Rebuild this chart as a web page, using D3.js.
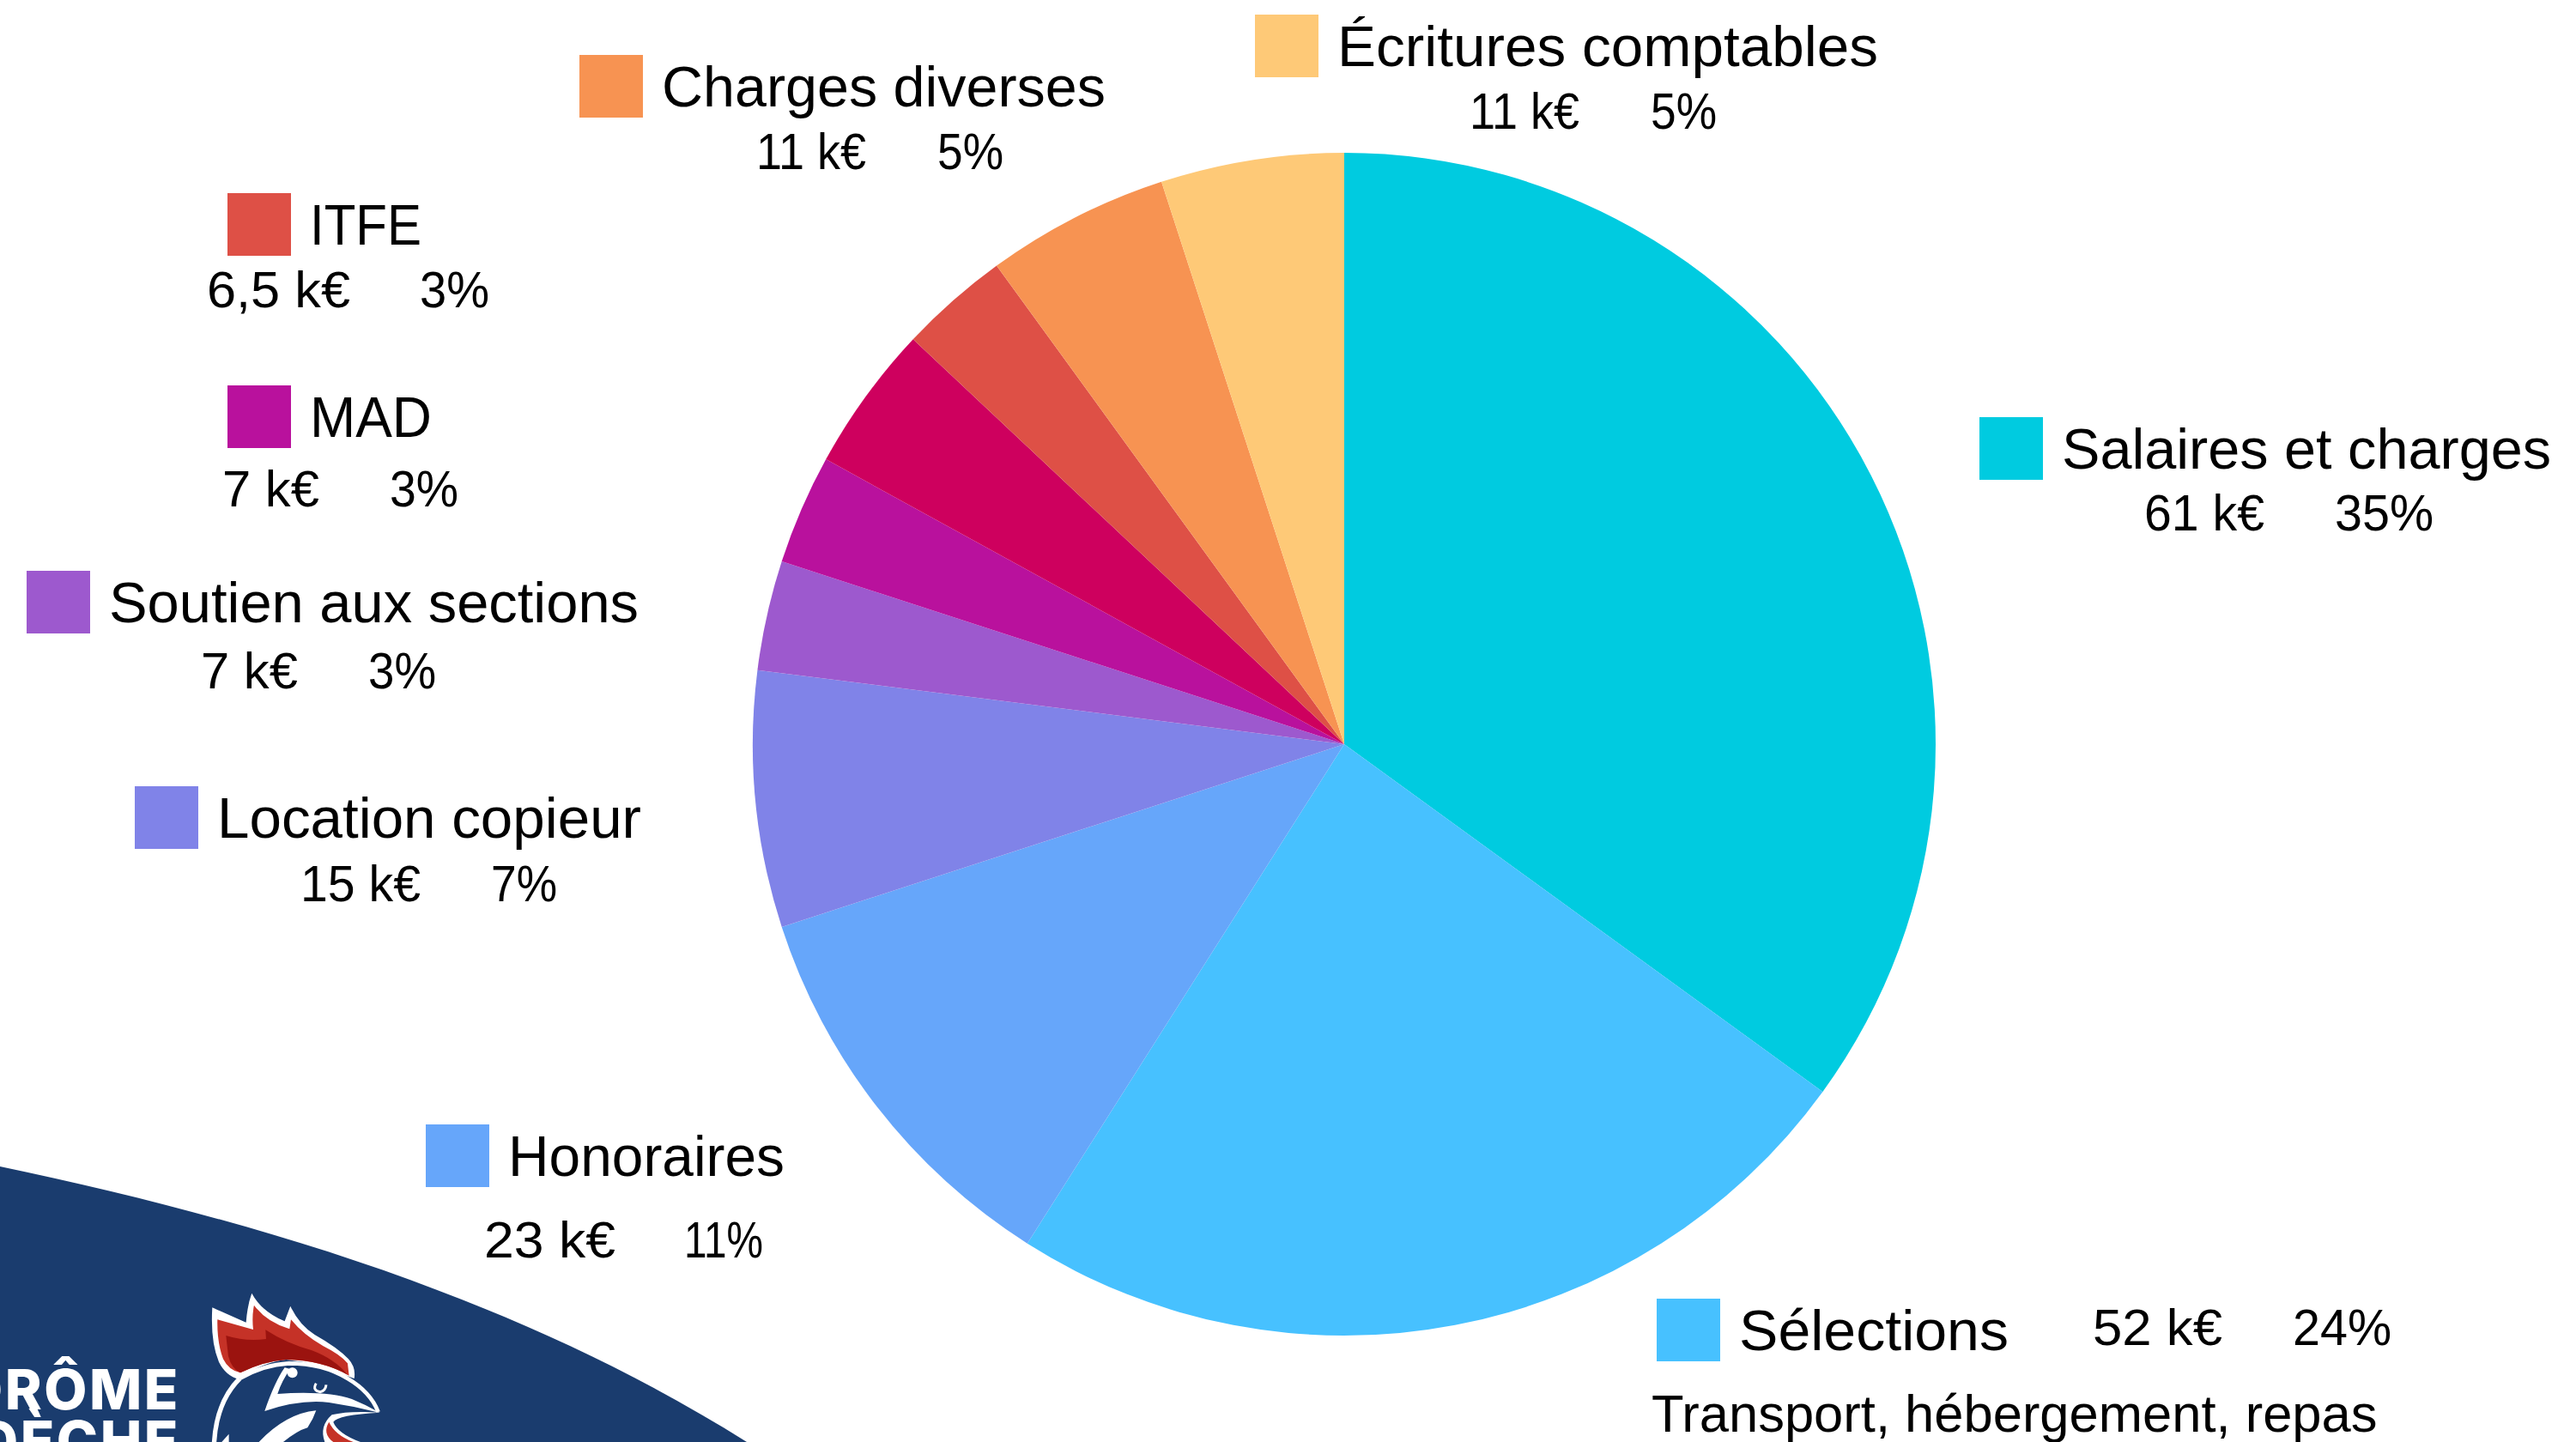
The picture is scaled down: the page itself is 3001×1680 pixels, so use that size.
<!DOCTYPE html>
<html>
<head>
<meta charset="utf-8">
<script src="https://cdn.jsdelivr.net/npm/d3@7"></script>
<style>
  html, body { margin: 0; padding: 0; background: #fff; }
  text { font-family: "Liberation Sans", Arial, sans-serif; fill: #000; }
  .logo-text { font-family: Inter, sans-serif; font-weight: 800; fill: #fff; }
</style>
</head>
<body>
<svg id="chart" width="3001" height="1680"></svg>
<script>
// one entry per slice, clockwise from the top. the crimson slice has no label on the picture
var names = ["Salaires et charges", "Sélections", "Honoraires", "Location copieur", "Soutien aux sections", "MAD", "", "ITFE", "Charges diverses", "Écritures comptables"];
var amounts = ["61 k€", "52 k€", "23 k€", "15 k€", "7 k€", "7 k€", "", "6,5 k€", "11 k€", "11 k€"];
var percents = [35, 24, 11, 7, 3, 3, 4, 3, 5, 5];
var colors = ["#00cbe0", "#47c1ff", "#66a6fa", "#8083e8", "#9d59ce", "#b9119d", "#ce005e", "#de5046", "#f79352", "#fec977"];
var note = "Transport, hébergement, repas";

var svg = d3.select("#chart");
var cx = 1566, cy = 867, r = 689;

// blue corner with the logo
svg.append("path")
  .attr("d", "M0,1359 C290,1420 600,1510 870,1680 L0,1680 Z")
  .attr("fill", "#1a3c6e");

svg.append("text").attr("class", "logo-text")
  .attr("x", 210).attr("y", 1642).attr("font-size", 65).attr("letter-spacing", 2.5).attr("text-anchor", "end").text("DRÔME");
svg.append("text").attr("class", "logo-text")
  .attr("x", 210).attr("y", 1702).attr("font-size", 65).attr("letter-spacing", 2.5).attr("text-anchor", "end").text("ARDÈCHE");

// rooster (3x coordinates)
var logo = svg.append("g").attr("transform", "translate(0,1480) scale(0.3333)");
logo.append("path").attr("fill", "#fff")
  .attr("d", "M742,130 L860,182 Q865,120 880,80 Q915,145 995,178 L1015,125 Q1045,190 1100,225 Q1180,270 1218,310 Q1245,340 1238,378 L1215,370 Q1120,325 1000,312 Q920,320 835,380 Q790,370 765,320 Q735,250 742,130 Z");
logo.append("path").attr("fill", "#c53227")
  .attr("d", "M760,172 L885,207 Q880,160 888,122 Q930,180 1012,205 L1017,172 Q1060,225 1130,265 Q1190,295 1215,325 L1220,368 Q1130,315 1000,312 Q920,318 840,358 Q800,350 780,310 Q758,250 760,172 Z");
logo.append("path").attr("fill", "#9b130f")
  .attr("d", "M790,228 Q860,250 930,240 L928,208 Q1000,255 1090,280 Q1170,310 1215,365 Q1120,312 1000,312 Q920,318 840,358 Q810,345 798,300 Z");
logo.append("path").attr("fill", "none").attr("stroke", "#fff").attr("stroke-width", 14)
  .attr("d", "M838,378 Q920,330 1010,325 Q1130,325 1215,378 Q1295,425 1322,495");
logo.append("path").attr("fill", "none").attr("stroke", "#fff").attr("stroke-width", 16)
  .attr("d", "M838,378 Q755,460 748,610");
logo.append("path").attr("fill", "#fff")
  .attr("d", "M995,340 Q960,390 925,492 Q1050,450 1150,462 Q1240,475 1328,498 Q1280,470 1230,450 Q1140,420 970,432 Q985,385 1015,345 Z");
logo.append("circle").attr("fill", "#fff").attr("cx", 1022).attr("cy", 358).attr("r", 18);
logo.append("path").attr("fill", "none").attr("stroke", "#fff").attr("stroke-width", 9)
  .attr("d", "M1105,395 Q1090,420 1120,425 Q1138,420 1140,400");
logo.append("path").attr("fill", "#fff")
  .attr("d", "M1105,490 Q1000,500 905,600 L990,600 Q1040,560 1075,550 Q1095,520 1105,490 Z");
logo.append("path").attr("fill", "#fff")
  .attr("d", "M1328,497 Q1220,490 1160,505 Q1115,545 1135,600 L1260,600 Q1180,570 1165,530 Q1180,505 1328,497 Z");
logo.append("path").attr("fill", "#c53227")
  .attr("d", "M1150,530 Q1125,570 1165,600 L1235,600 Q1170,575 1150,530 Z");
logo.append("path").attr("fill", "#fff")
  .attr("d", "M800,572 L775,600 L800,600 Z");

var pie = d3.pie().sort(null).value(function(d) { return d; });
var arc = d3.arc().innerRadius(0).outerRadius(r);

svg.append("g")
  .attr("transform", "translate(" + cx + "," + cy + ")")
  .selectAll("path")
  .data(pie(percents))
  .enter().append("path")
  .attr("d", arc)
  .attr("fill", function(d, i) { return colors[i]; });

// legend layout, the widths are forced since the original font runs narrower
// [swatch x, swatch y, amount x, percent x, values baseline, name width, amount width, percent width]
var legendPos = [
  [2306, 486, 2498, 2720, 618, 570, 140, 115],
  [1930, 1513, 2438, 2671, 1567, 314, 151, 115],
  [496, 1310, 564, 797, 1465, 322, 153, 92],
  [157, 916, 350, 572, 1050, 494, 140, 77],
  [31, 665, 234, 429, 802, 617, 113, 79],
  [265, 449, 259, 454, 590, 142, 113, 80],
  null,
  [265, 225, 241, 489, 358, 130, 167, 81],
  [675, 64, 881, 1092, 197, 517, 128, 77],
  [1462, 17, 1712, 1923, 150, 630, 128, 77]
];

var legend = svg.append("g").selectAll("g")
  .data(names.map(function(n, i) { return { name: n, i: i }; }).filter(function(d) { return d.name; }))
  .enter().append("g");

legend.append("rect")
  .attr("x", function(d) { return legendPos[d.i][0]; })
  .attr("y", function(d) { return legendPos[d.i][1]; })
  .attr("width", 74)
  .attr("height", 73)
  .attr("fill", function(d) { return colors[d.i]; });

legend.append("text")
  .attr("x", function(d) { return legendPos[d.i][0] + 96; })
  .attr("y", function(d) { return legendPos[d.i][1] + 60; })
  .attr("font-size", 67)
  .attr("textLength", function(d) { return legendPos[d.i][5]; })
  .attr("lengthAdjust", "spacingAndGlyphs")
  .text(function(d) { return d.name; });

legend.append("text")
  .attr("x", function(d) { return legendPos[d.i][2]; })
  .attr("y", function(d) { return legendPos[d.i][4]; })
  .attr("font-size", 60)
  .attr("textLength", function(d) { return legendPos[d.i][6]; })
  .attr("lengthAdjust", "spacingAndGlyphs")
  .text(function(d) { return amounts[d.i]; });

legend.append("text")
  .attr("x", function(d) { return legendPos[d.i][3]; })
  .attr("y", function(d) { return legendPos[d.i][4]; })
  .attr("font-size", 60)
  .attr("textLength", function(d) { return legendPos[d.i][7]; })
  .attr("lengthAdjust", "spacingAndGlyphs")
  .text(function(d) { return percents[d.i] + "%"; });

svg.append("text")
  .attr("x", 1924)
  .attr("y", 1668)
  .attr("font-size", 61.5)
  .text(note);
</script>
</body>
</html>
